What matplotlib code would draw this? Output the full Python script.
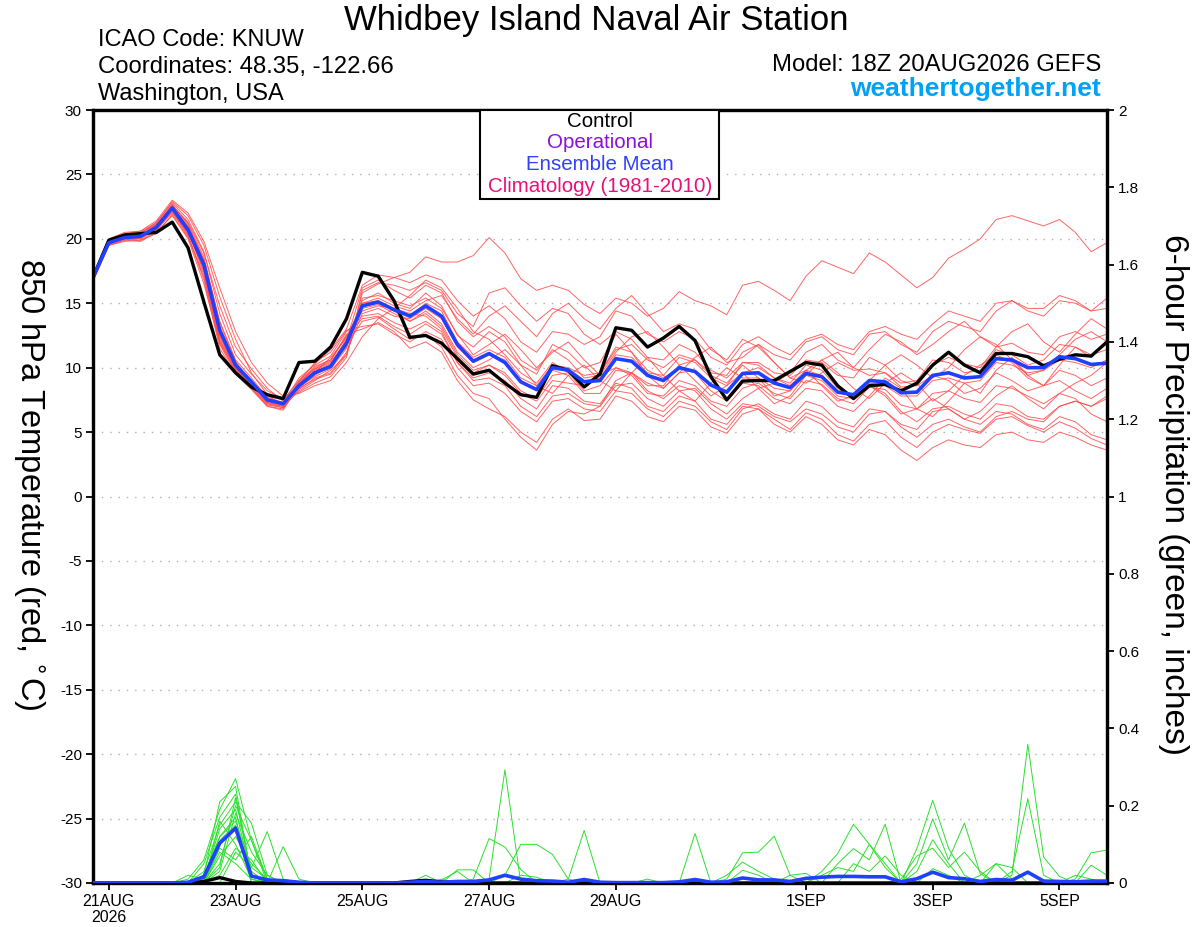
import numpy as np
import pandas as pd
import matplotlib
matplotlib.use('Agg')
import matplotlib.pyplot as plt
from matplotlib.patches import Rectangle

plt.rcParams['font.family'] = ['Liberation Sans', 'DejaVu Sans']

# 6-hourly GEFS steps, 18Z 20AUG2026 -> 18Z 05SEP2026
times = pd.date_range('2026-08-20 18:00', periods=65, freq='6h')

tick_dates = ['2026-08-21', '2026-08-23', '2026-08-25', '2026-08-27',
              '2026-08-29', '2026-09-01', '2026-09-03', '2026-09-05']
tick_labels = ['21AUG\n2026', '23AUG', '25AUG', '27AUG', '29AUG', '1SEP', '3SEP', '5SEP']

# 850 hPa temperature (C)
control_t = [17.0, 19.9, 20.3, 20.4, 20.5, 21.3, 19.3, 15.1, 11.0, 9.6, 8.5, 7.9, 7.6, 10.4, 10.5, 11.6, 13.8,
             17.4, 17.1, 15.2, 12.35, 12.5, 11.9, 10.7, 9.5, 9.8, 8.8, 7.9, 7.7, 10.15, 9.8, 8.5, 9.5,
             13.1, 12.9, 11.6, 12.3, 13.2, 12.1, 9.3, 7.5, 8.96, 9.0, 9.0, 9.7, 10.4, 10.2, 8.6, 7.6,
             8.6, 8.7, 8.2, 8.8, 10.2, 11.2, 10.2, 9.6, 11.1, 11.1, 10.85, 10.15, 10.65, 11.0, 10.9, 12.0]

mean_t = [17.0, 19.7, 20.1, 20.2, 20.9, 22.4, 20.7, 18.0, 12.9, 10.2, 8.9, 7.5, 7.2, 8.6, 9.6, 10.1, 11.9,
          14.8, 15.1, 14.5, 14.0, 14.8, 14.0, 11.8, 10.5, 11.1, 10.4, 8.9, 8.3, 10.0, 9.8, 8.9, 9.0,
          10.7, 10.5, 9.4, 9.0, 10.0, 9.7, 8.65, 8.1, 9.55, 9.6, 8.8, 8.45, 9.55, 9.3, 8.1, 7.9,
          9.0, 8.9, 8.05, 8.1, 9.4, 9.6, 9.2, 9.3, 10.7, 10.6, 10.0, 10.0, 10.85, 10.7, 10.25, 10.35]

member_t = [
    [16.9, 19.6, 20.3, 20.4, 21.2, 22.9, 21.8, 19.5, 15.5, 12.2, 9.6, 7.9, 7.0, 8.2, 9.0, 9.8, 11.0,
     15.8, 16.5, 17.0, 17.4, 18.6, 18.2, 18.2, 18.7, 20.1, 18.9, 16.9, 16.0, 16.4, 16.0, 14.9, 14.2,
     15.4, 15.0, 14.0, 14.6, 15.9, 15.2, 14.8, 14.1, 16.4, 16.7, 16.0, 15.2, 17.1, 18.3, 17.8, 17.3,
     18.9, 18.2, 17.2, 16.2, 17.0, 18.5, 19.2, 20.0, 21.5, 21.8, 21.4, 21.0, 21.5, 20.5, 19.0, 19.7],
    [17.1, 19.8, 20.0, 19.9, 20.6, 22.1, 20.2, 17.2, 11.8, 9.6, 8.5, 7.2, 6.9, 8.9, 9.9, 10.5, 12.6,
     13.0, 13.5, 12.8, 11.5, 12.0, 11.2, 9.0, 7.5, 6.8, 6.2, 5.0, 4.2, 6.0, 6.8, 5.9, 6.0,
     7.8, 7.4, 6.2, 5.8, 7.0, 6.7, 5.4, 4.9, 6.4, 6.8, 6.0, 5.2, 6.5, 6.0, 4.8, 4.3,
     5.6, 5.9, 4.6, 3.8, 5.0, 5.6, 5.2, 4.9, 6.0, 6.2, 5.5, 5.0, 5.8, 5.3, 4.5, 4.0],
    [17.0, 19.5, 19.9, 20.1, 21.0, 22.6, 21.2, 18.6, 13.5, 10.5, 8.8, 7.4, 7.1, 8.4, 9.4, 10.2, 11.6,
     15.2, 15.8, 15.0, 14.6, 15.8, 14.8, 12.5, 11.6, 12.8, 12.0, 10.2, 9.5, 11.8, 11.2, 10.0, 10.4,
     12.6, 11.2, 9.4, 8.4, 9.6, 10.8, 11.6, 10.4, 10.8, 11.8, 10.4, 9.2, 8.8, 9.6, 10.4, 9.8,
     9.9, 9.6, 8.5, 8.6, 10.2, 10.8, 10.3, 10.0, 11.6, 11.9, 11.2, 11.0, 12.4, 12.8, 12.2, 12.6],
    [16.8, 19.7, 20.2, 20.3, 20.8, 22.0, 20.5, 17.8, 12.5, 10.0, 8.6, 7.6, 7.3, 9.2, 10.2, 10.9, 12.8,
     14.0, 14.2, 13.5, 13.0, 13.6, 12.8, 10.4, 9.0, 9.2, 8.6, 7.0, 6.2, 7.8, 8.0, 7.2, 7.0,
     8.6, 8.8, 7.6, 7.0, 8.2, 8.4, 7.2, 6.4, 7.6, 8.4, 8.8, 9.6, 11.2, 11.8, 10.6, 10.0,
     11.4, 12.6, 12.0, 11.0, 11.8, 12.8, 13.6, 12.4, 11.6, 12.8, 13.4, 12.0, 11.2, 12.6, 13.8, 13.0],
    [17.2, 20.0, 20.5, 20.6, 21.4, 23.0, 22.0, 19.8, 16.2, 12.8, 10.4, 8.8, 7.8, 8.0, 8.6, 9.0, 10.4,
     12.4, 13.8, 14.6, 15.6, 16.8, 16.2, 14.6, 12.8, 12.2, 11.0, 9.6, 8.8, 10.4, 9.6, 8.2, 8.6,
     10.0, 9.4, 8.0, 7.8, 9.0, 8.6, 7.4, 7.0, 8.4, 8.8, 8.0, 7.6, 9.0, 8.7, 7.6, 7.2,
     8.5, 8.3, 7.1, 6.8, 8.0, 8.2, 7.6, 7.3, 8.6, 8.4, 7.8, 7.2, 8.0, 7.6, 6.4, 5.8],
    [16.9, 19.6, 20.1, 20.0, 20.7, 22.3, 20.6, 17.5, 12.2, 9.9, 8.7, 7.3, 7.0, 8.7, 9.8, 10.3, 12.2,
     15.0, 15.4, 14.8, 14.4, 15.2, 15.6, 13.8, 12.6, 14.0, 14.8, 13.6, 12.4, 14.2, 15.0, 13.8, 13.0,
     14.6, 15.6, 14.2, 12.8, 13.4, 13.0, 11.4, 10.6, 12.2, 11.6, 10.4, 9.2, 9.8, 8.6, 7.4, 7.8,
     8.6, 7.8, 6.4, 6.8, 7.6, 6.8, 6.0, 6.6, 7.8, 8.6, 7.6, 6.8, 8.0, 8.8, 9.4, 10.4],
    [17.0, 19.7, 20.2, 20.2, 21.1, 22.5, 21.0, 18.3, 13.0, 10.1, 8.9, 7.8, 7.5, 9.0, 10.0, 10.6, 12.4,
     14.6, 14.9, 14.2, 13.6, 14.4, 13.4, 11.2, 10.0, 10.6, 11.4, 10.2, 8.6, 8.0, 9.4, 10.2, 9.0,
     8.2, 9.6, 10.8, 9.4, 8.2, 7.4, 8.8, 10.0, 9.2, 9.2, 8.4, 8.2, 9.4, 9.0, 7.8, 7.6,
     8.8, 8.6, 7.8, 7.8, 9.0, 9.2, 8.8, 9.0, 10.4, 10.2, 9.6, 9.8, 10.6, 10.4, 10.0, 10.6],
    [17.1, 19.9, 20.4, 20.5, 21.0, 22.2, 20.3, 16.8, 11.5, 9.5, 8.3, 7.0, 6.8, 8.5, 9.5, 10.0, 11.8,
     13.6, 13.9, 13.0, 12.2, 12.6, 11.6, 9.4, 8.0, 7.6, 6.0, 4.6, 3.6, 5.6, 6.6, 6.4, 7.0,
     9.0, 9.6, 8.8, 8.4, 9.6, 9.8, 8.6, 8.0, 9.6, 10.0, 9.2, 8.8, 10.2, 9.8, 8.4, 7.6,
     8.6, 8.0, 6.6, 5.8, 6.8, 7.0, 6.4, 6.0, 7.2, 7.0, 6.2, 6.0, 7.0, 7.4, 7.0, 7.6],
    [16.7, 19.5, 19.9, 19.8, 20.5, 21.8, 20.0, 16.5, 11.9, 9.8, 8.4, 7.1, 6.9, 8.3, 9.2, 9.6, 11.2,
     14.2, 14.6, 14.0, 13.8, 14.6, 13.8, 11.6, 10.4, 11.0, 10.6, 9.0, 8.2, 9.8, 9.4, 8.0, 8.0,
     9.8, 9.6, 8.6, 8.6, 10.2, 10.6, 9.6, 9.4, 11.2, 11.8, 11.0, 10.6, 12.0, 12.4, 11.4, 11.0,
     12.6, 12.8, 11.8, 11.2, 12.8, 13.6, 13.2, 12.8, 14.4, 15.2, 14.4, 14.0, 15.2, 15.0, 14.4, 15.4],
    [17.0, 19.8, 20.3, 20.4, 21.3, 22.8, 21.5, 19.0, 14.2, 11.0, 9.5, 8.2, 7.6, 8.6, 9.3, 9.9, 11.5,
     15.4, 15.6, 15.2, 14.8, 15.4, 14.6, 12.6, 11.0, 11.8, 12.6, 11.4, 10.0, 11.2, 12.0, 10.6, 9.4,
     10.0, 9.6, 8.2, 7.6, 8.6, 8.2, 6.8, 6.0, 7.2, 7.0, 6.2, 5.8, 6.8, 6.4, 5.4, 5.0,
     6.4, 6.6, 5.6, 5.2, 6.6, 6.8, 6.0, 5.6, 6.6, 6.4, 5.6, 5.2, 6.2, 5.8, 4.8, 4.4],
    [16.9, 19.6, 20.0, 20.1, 20.9, 22.4, 20.8, 18.1, 13.2, 10.4, 9.0, 7.5, 7.2, 8.8, 9.9, 10.4, 12.1,
     16.2, 16.8, 16.0, 15.4, 16.4, 15.8, 13.6, 12.4, 13.2, 12.4, 10.6, 9.8, 11.4, 10.6, 9.2, 9.4,
     11.2, 12.4, 12.8, 11.6, 10.2, 9.0, 7.8, 8.6, 9.6, 8.4, 7.2, 7.8, 9.4, 10.6, 11.2, 10.0,
     9.4, 9.6, 8.8, 9.0, 10.6, 10.4, 9.6, 9.8, 11.4, 11.0, 10.2, 10.6, 11.8, 11.6, 11.0, 11.4],
    [17.1, 19.7, 20.1, 20.3, 20.7, 22.2, 20.4, 17.6, 12.4, 9.9, 8.6, 7.2, 7.0, 8.9, 10.4, 11.2, 12.9,
     13.2, 13.4, 12.6, 12.0, 12.8, 12.2, 10.0, 8.6, 8.8, 8.0, 6.6, 5.8, 7.4, 7.6, 6.8, 6.6,
     8.2, 8.0, 6.8, 6.2, 7.4, 7.0, 5.8, 5.2, 6.8, 7.2, 6.4, 6.0, 7.4, 7.0, 5.8, 5.4,
     6.8, 6.6, 5.4, 4.6, 5.6, 6.0, 5.4, 5.0, 6.2, 6.6, 6.0, 5.8, 7.0, 7.4, 7.0, 7.8],
    [17.0, 19.8, 20.2, 20.0, 20.9, 22.6, 21.3, 18.9, 14.8, 11.6, 9.9, 8.4, 7.4, 8.1, 8.8, 9.3, 10.8,
     16.0, 16.6, 16.4, 16.0, 16.6, 16.0, 14.2, 13.2, 15.8, 16.2, 14.8, 13.6, 14.6, 14.2, 12.6, 11.8,
     12.8, 12.2, 10.8, 10.6, 11.8, 11.2, 9.8, 9.2, 10.4, 10.2, 9.2, 8.6, 9.8, 9.4, 8.2, 7.8,
     9.0, 10.2, 11.0, 10.2, 9.2, 10.0, 11.4, 12.4, 11.8, 10.6, 9.4, 9.8, 11.0, 12.2, 12.8, 12.0],
    [16.8, 19.6, 20.0, 20.2, 21.0, 22.5, 20.9, 18.2, 12.8, 10.0, 8.8, 7.4, 7.1, 8.6, 9.7, 10.2, 12.0,
     14.4, 14.8, 14.6, 14.2, 14.0, 13.0, 10.8, 9.6, 10.2, 9.4, 8.0, 7.4, 9.0, 8.8, 8.6, 9.6,
     11.6, 11.2, 9.8, 9.2, 10.0, 9.6, 8.2, 7.4, 8.8, 8.6, 7.6, 7.2, 8.4, 8.2, 7.0, 6.6,
     7.8, 9.2, 8.4, 6.8, 6.2, 7.4, 8.8, 8.0, 9.8, 10.8, 9.4, 8.6, 10.2, 11.6, 10.8, 12.0],
    [17.2, 19.9, 20.4, 20.6, 21.2, 22.7, 21.1, 18.4, 13.6, 10.6, 9.2, 7.7, 7.3, 8.5, 9.6, 10.8, 12.3,
     15.0, 15.2, 14.4, 13.6, 14.2, 13.2, 11.0, 9.8, 10.2, 9.6, 8.2, 7.6, 9.4, 9.6, 9.0, 9.2,
     11.0, 10.8, 9.6, 9.4, 10.8, 10.4, 9.2, 8.6, 10.4, 10.4, 9.6, 9.4, 10.6, 10.4, 9.4, 9.2,
     10.8, 10.2, 9.0, 8.6, 9.4, 9.0, 8.0, 8.4, 9.6, 9.0, 8.2, 8.6, 9.8, 9.4, 8.6, 9.2],
    [16.9, 19.5, 19.8, 19.9, 20.4, 21.9, 20.1, 17.0, 12.0, 9.7, 8.4, 7.0, 6.7, 8.7, 10.1, 10.6, 12.5,
     13.8, 14.0, 13.2, 12.6, 13.4, 12.6, 10.4, 9.2, 9.6, 9.0, 7.6, 6.8, 8.6, 8.4, 7.4, 7.2,
     8.8, 8.4, 7.0, 6.6, 7.8, 7.4, 6.0, 5.6, 7.0, 6.8, 5.6, 5.0, 6.2, 5.6, 4.4, 4.0,
     5.2, 4.8, 3.6, 2.8, 3.8, 4.4, 4.0, 3.8, 4.8, 5.0, 4.4, 4.2, 5.0, 4.6, 4.0, 3.6],
    [17.0, 19.7, 20.1, 20.1, 20.8, 22.3, 20.7, 17.9, 12.6, 10.1, 8.8, 7.6, 7.2, 8.4, 9.1, 9.5, 11.0,
     14.8, 15.0, 14.4, 14.0, 15.0, 14.4, 12.0, 10.8, 11.4, 10.8, 9.2, 8.6, 10.2, 10.0, 9.4, 9.6,
     11.4, 11.8, 10.6, 10.0, 11.0, 10.6, 9.4, 8.8, 10.2, 9.2, 7.8, 8.2, 9.8, 10.6, 9.6, 8.4,
     7.6, 8.8, 9.6, 8.8, 7.4, 8.2, 9.4, 10.2, 11.0, 10.4, 9.2, 8.6, 9.0, 8.2, 7.6, 8.4],
    [17.1, 19.8, 20.3, 20.5, 21.1, 22.5, 20.6, 17.4, 12.1, 9.9, 8.7, 7.3, 7.1, 9.0, 10.3, 11.4, 13.0,
     16.4, 17.2, 17.0, 16.6, 17.2, 16.8, 15.2, 14.0, 14.8, 13.8, 12.0, 11.2, 12.8, 12.6, 11.8, 12.4,
     14.4, 14.0, 12.6, 12.0, 12.8, 12.2, 10.8, 10.2, 11.8, 12.4, 11.6, 11.0, 12.2, 12.6, 11.8, 11.4,
     12.8, 13.2, 12.6, 12.2, 13.4, 14.4, 14.0, 13.6, 15.0, 15.2, 14.6, 14.6, 15.6, 15.2, 14.4, 14.6],
]

# 6-hour precipitation (inches); members listed as {step index: amount}, zero elsewhere
control_p = [0, 0, 0, 0, 0, 0, 0, 0.004, 0.014, 0.004, 0, 0, 0, 0, 0, 0, 0,
             0, 0, 0, 0.004, 0.007, 0.003, 0, 0, 0, 0, 0, 0, 0, 0, 0, 0,
             0, 0, 0, 0, 0, 0, 0, 0, 0, 0, 0, 0, 0, 0, 0, 0,
             0, 0, 0, 0, 0, 0, 0, 0, 0, 0, 0, 0, 0, 0, 0, 0]

mean_p = [0, 0, 0, 0, 0, 0, 0.002, 0.016, 0.103, 0.142, 0.018, 0.008, 0.006, 0.002, 0, 0, 0,
          0, 0, 0, 0.002, 0.004, 0.002, 0.004, 0.004, 0.008, 0.02, 0.01, 0.006, 0.005, 0.002, 0.009, 0.002,
          0.001, 0.001, 0.001, 0.001, 0.003, 0.009, 0.002, 0.003, 0.013, 0.008, 0.008, 0.004, 0.012, 0.015, 0.017, 0.017,
          0.016, 0.016, 0.003, 0.011, 0.028, 0.014, 0.011, 0.004, 0.009, 0.007, 0.028, 0.005, 0.004, 0.003, 0.005, 0.005]

member_p = [
    {6: .01, 7: .06, 8: .19, 9: .27, 10: .11, 11: .01, 40: .01, 41: .078, 42: .08, 43: .121, 44: .02, 63: .046, 64: .02},
    {7: .05, 8: .17, 9: .23, 10: .02, 25: .01, 26: .293, 52: .089, 53: .214, 54: .09, 55: .02},
    {7: .03, 8: .15, 9: .21, 10: .155, 11: .02, 21: .02, 35: .01, 46: .03, 47: .076, 48: .152, 49: .1, 50: .05},
    {6: .02, 7: .01, 8: .12, 9: .16, 10: .04, 11: .133, 12: .01, 38: .01, 52: .05, 53: .166, 54: .06, 55: .155, 56: .024},
    {8: .03, 9: .18, 10: .08, 11: .02, 23: .034, 24: .034, 44: .02, 45: .025},
    {7: .02, 8: .21, 9: .25, 10: .01, 30: .01, 31: .136, 52: .03, 53: .112, 54: .05},
    {8: .10, 9: .14, 10: .03, 12: .094, 13: .01, 22: .008, 23: .03, 47: .05, 48: .089, 49: .06, 50: .152},
    {7: .01, 8: .14, 9: .19, 10: .02, 31: .01},
    {8: .07, 9: .12, 10: .05, 11: .01, 22: .01, 40: .02, 41: .054, 42: .03, 43: .01, 58: .03, 59: .218, 60: .02},
    {8: .05, 9: .20, 10: .11, 24: .01, 25: .115, 26: .093, 27: .035, 57: .05, 58: .01, 59: .03},
    {8: .16, 9: .10, 10: .01, 38: .128, 62: .02, 63: .01},
    {8: .08, 9: .05, 10: .01, 27: .02, 28: .015, 53: .037, 54: .02},
    {9: .08, 10: .04, 11: .01, 26: .02, 27: .10, 28: .10, 29: .074, 30: .01, 56: .02, 57: .05, 58: .04},
    {7: .02, 8: .12, 9: .17, 41: .033, 42: .02, 62: .01, 63: .078, 64: .085},
    {8: .04, 9: .22, 10: .02, 48: .05, 49: .03, 50: .07, 51: .02},
    {8: .09, 9: .06, 10: .12, 11: .01, 46: .02, 47: .04, 48: .03, 49: .1, 50: .04},
    {8: .11, 9: .15, 51: .01, 52: .07, 53: .09, 54: .04, 55: .08, 56: .03},
    {8: .02, 9: .09, 10: .06, 58: .02, 59: .359, 60: .067, 61: .017},
]

for m in member_t:
    assert len(m) == len(times)
assert len(control_t) == len(mean_t) == len(control_p) == len(mean_p) == len(times)

W, H = 1200, 927
fig = plt.figure(figsize=(W / 100, H / 100), dpi=100)
ax = fig.add_axes([93 / W, 1 - 883 / H, (1107 - 93) / W, (883 - 110) / H])
ax2 = ax.twinx()

# temperature
for m in member_t:
    ax.plot(times, m, color='#ff4a4a', lw=0.7, alpha=0.85, zorder=2)
ax.plot(times, control_t, color='black', lw=2.4, zorder=4)
ax.plot(times, mean_t, color='#2040ff', lw=2.6, zorder=5)

# precipitation
for ev in member_p:
    p = np.zeros(len(times))
    for k, v in ev.items():
        p[k] = v
    ax2.plot(times, p, color='#2ede2e', lw=0.7, zorder=2)
ax2.plot(times, control_p, color='black', lw=2.4, zorder=4)
ax2.plot(times, mean_p, color='#2040ff', lw=2.6, zorder=5)

ax.set_xlim(times[0], times[-1])
ax.set_ylim(-30, 30)
ax2.set_ylim(0, 2)
ax.set_yticks(np.arange(-30, 31, 5))
ax.set_yticklabels([str(v) for v in range(-30, 31, 5)])
ax2.set_yticks(np.arange(0, 2.01, 0.2))
ax2.set_yticklabels(['0', '0.2', '0.4', '0.6', '0.8', '1', '1.2', '1.4', '1.6', '1.8', '2'])
ax.set_xticks(pd.to_datetime(tick_dates))
ax.set_xticklabels(tick_labels)

ax.grid(axis='y', color='#b0b0b0', lw=1.0, ls=(0, (1, 5)), zorder=0)
ax.set_axisbelow(True)

for a in (ax, ax2):
    for s in a.spines.values():
        s.set_linewidth(2.3)
ax.tick_params(axis='y', direction='out', length=5, width=1.3, labelsize=11, pad=3)
ax2.tick_params(axis='y', direction='out', length=5, width=1.3, labelsize=11, pad=3)
ax.tick_params(axis='x', direction='out', length=5, width=1.3, labelsize=11.5, pad=3)
for lab in ax.get_xticklabels():
    lab.set_linespacing(1.1)

# axis titles
fig.text(29 / W, 1 - 484 / H, '850 hPa Temperature (red, $^{\\circ}$C)', rotation=-90,
         ha='center', va='center', fontsize=23.5)
fig.text(1173 / W, 1 - 495 / H, '6-hour Precipitation (green, inches)', rotation=-90,
         ha='center', va='center', fontsize=24)

# header texts
fig.text(596 / W, 1 - 30 / H, 'Whidbey Island Naval Air Station', ha='center', va='baseline', fontsize=25)
fig.text(98 / W, 1 - 46 / H, 'ICAO Code: KNUW', ha='left', va='baseline', fontsize=17)
fig.text(98 / W, 1 - 73 / H, 'Coordinates: 48.35, -122.66', ha='left', va='baseline', fontsize=17.2)
fig.text(98 / W, 1 - 100 / H, 'Washington, USA', ha='left', va='baseline', fontsize=17)
fig.text(1101 / W, 1 - 71 / H, 'Model: 18Z 20AUG2026 GEFS', ha='right', va='baseline', fontsize=17.2)
fig.text(1101 / W, 1 - 96 / H, 'weathertogether.net', ha='right', va='baseline', fontsize=19,
         fontweight='bold', color='#00a2f5')

# legend box
box = Rectangle((480 / W, 1 - 199 / H), (719 - 480) / W, (199 - 110) / H, transform=fig.transFigure,
                facecolor='white', edgecolor='black', lw=1.5, zorder=10)
fig.add_artist(box)
legend_items = [('Control', 'black', 127), ('Operational', '#8a10e0', 148),
                ('Ensemble Mean', '#3040ff', 170), ('Climatology (1981-2010)', '#e8107a', 192)]
for txt, col, yb in legend_items:
    fig.text(600 / W, 1 - yb / H, txt, ha='center', va='baseline', fontsize=14.8, color=col, zorder=11)

fig.savefig('out.png', dpi=100)
